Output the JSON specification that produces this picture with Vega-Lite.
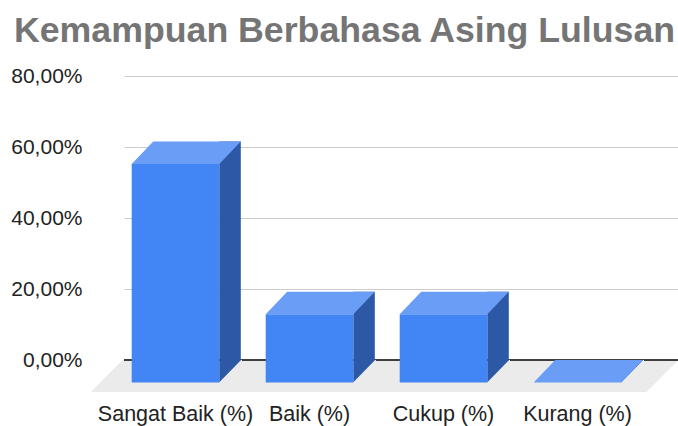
{
  "$schema": "https://vega.github.io/schema/vega-lite/v6.json",
  "width": 554,
  "height": 284,
  "autosize": {"type": "none"},
  "padding": {"left": 124, "top": 76, "right": 0, "bottom": 66},
  "background": "white",
  "title": {
    "text": "Kemampuan Berbahasa Asing Lulusan",
    "font": "Liberation Sans",
    "fontSize": 35.7,
    "fontWeight": "bold",
    "color": "#757575",
    "anchor": "start",
    "frame": "group",
    "dx": -110,
    "offset": 15
  },
  "data": {
    "values": [
      {"kategori": "Sangat Baik (%)", "nilai": 0.6154},
      {"kategori": "Baik (%)", "nilai": 0.1923},
      {"kategori": "Cukup (%)", "nilai": 0.1923},
      {"kategori": "Kurang (%)", "nilai": 0}
    ]
  },
  "config": {
    "locale": {
      "number": {"decimal": ",", "thousands": ".", "grouping": [3], "currency": ["Rp", ""]}
    },
    "view": {"stroke": null},
    "font": "Liberation Sans",
    "axisX": {
      "title": null,
      "domain": false,
      "ticks": false,
      "grid": false,
      "labelAngle": 0,
      "labelPadding": 43,
      "labelFontSize": 21.5,
      "labelColor": "#222222",
      "labelFont": "Liberation Sans"
    },
    "axisY": {
      "title": null,
      "domain": false,
      "ticks": false,
      "grid": true,
      "labelPadding": 42,
      "labelFontSize": 21,
      "labelColor": "#222222",
      "labelFont": "Liberation Sans",
      "gridColor": "#cccccc",
      "gridWidth": 1
    }
  },
  "resolve": {"scale": {"x": "shared", "y": "shared"}},
  "layer": [
    {
      "mark": {"type": "point", "shape": "M-52.5,0L502.5,0L471,31.7L-84,31.7Z", "size": 4, "filled": true, "color": "#ebebeb", "opacity": 1, "strokeWidth": 0},
      "encoding": {
        "x": {
          "datum": "Sangat Baik (%)",
          "type": "nominal",
          "scale": {"domain": ["Sangat Baik (%)", "Baik (%)", "Cukup (%)", "Kurang (%)"], "paddingInner": 0.3463, "paddingOuter": 0.2403, "align": 0.1196}
        },
        "y": {
          "datum": 0,
          "type": "quantitative",
          "scale": {"domain": [0, 0.8], "nice": false},
          "axis": {"values": [0, 0.2, 0.4, 0.6, 0.8], "format": ".2%", "grid": true}
        }
      }
    },
    {
      "mark": {"type": "rule", "color": "#333333", "strokeWidth": 1},
      "encoding": {"y": {"datum": 0, "type": "quantitative"}}
    },
    {
      "mark": {"type": "bar", "width": 21.5, "xOffset": 54.55, "y2Offset": 22.5, "color": "#2c58a6"},
      "encoding": {
        "x": {"field": "kategori", "type": "nominal", "sort": null},
        "y": {"field": "nilai", "type": "quantitative"},
        "y2": {"datum": 0}
      }
    },
    {
      "mark": {"type": "point", "shape": "M43.6,22.6L65.6,0L66.5,0L66.5,24L43.6,24Z", "size": 4, "filled": true, "color": "#ebebeb", "opacity": 1, "strokeWidth": 0},
      "encoding": {
        "x": {"field": "kategori", "type": "nominal", "sort": null},
        "y": {"datum": 0, "type": "quantitative"}
      }
    },
    {
      "mark": {"type": "bar", "yOffset": 22.5, "y2Offset": 22.5, "color": "#4285f4"},
      "encoding": {
        "x": {"field": "kategori", "type": "nominal", "sort": null},
        "y": {"field": "nilai", "type": "quantitative"},
        "y2": {"datum": 0}
      }
    },
    {
      "mark": {"type": "point", "shape": "M-43.8,0L43.8,0L65.3,-22.5L-22.3,-22.5Z", "size": 4, "filled": true, "color": "#699df6", "opacity": 1, "strokeWidth": 0, "yOffset": 22.5},
      "encoding": {
        "x": {"field": "kategori", "type": "nominal", "sort": null},
        "y": {"field": "nilai", "type": "quantitative"}
      }
    }
  ]
}
